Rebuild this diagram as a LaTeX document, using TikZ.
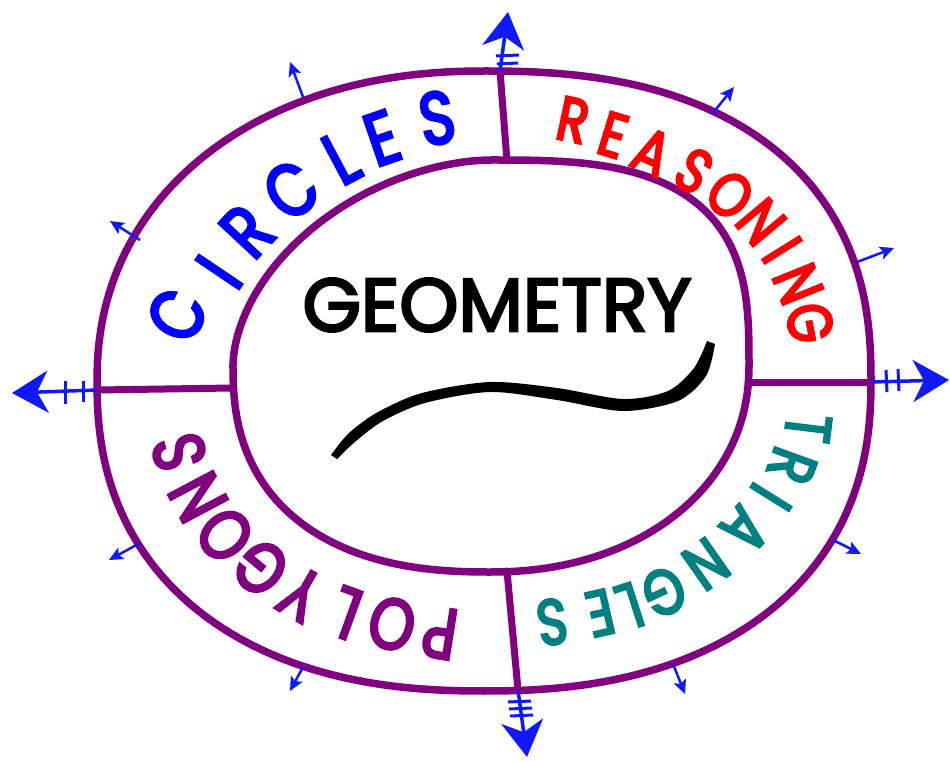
\documentclass[tikz,border=0pt]{standalone}
\usepackage{fontspec}
\usetikzlibrary{arrows.meta}
\newfontfamily\handfont[FakeStretch=0.8, FakeBold=4]{Poppins}
\newfontfamily\geofont[FakeBold=3.5]{Poppins}
\definecolor{ringpurple}{RGB}{128,0,128}
\definecolor{arrowblue}{RGB}{15,25,250}
\definecolor{circblue}{RGB}{0,0,255}
\definecolor{reasred}{RGB}{255,0,0}
\definecolor{trigteal}{RGB}{0,128,128}
% superellipse quadrant: #1 joiner, #2 cx, #3 cy, #4 a, #5 b, #6 exponent 2/n-1, #7..#8 angles
\newcommand{\sqq}[8]{#1 plot[smooth, domain=#7:#8, samples=36, variable=\t]
  ({#2+#4*cos(\t)*(abs(cos(\t))+0.0001)^(#6)}, {#3-#5*sin(\t)*(abs(sin(\t))+0.0001)^(#6)})}
\begin{document}
\begin{tikzpicture}[x=1pt,y=-1pt,
  ring/.style={draw=ringpurple, line width=7.5pt, line join=round},
  divider/.style={draw=ringpurple, line width=7pt, line cap=round},
  bigarrow/.style={draw=arrowblue, line width=3.5pt, -{Stealth[length=36pt,width=42pt,inset=11pt]}},
  smallarrow/.style={draw=arrowblue, line width=2.5pt, -{Stealth[length=14pt,width=13pt,inset=3pt]}},
  fletch/.style={draw=arrowblue, line width=3pt},
  letter/.style={inner sep=0pt, font=\handfont\fontsize{#1}{#1}\selectfont},
  circl/.style={letter=74, text=circblue},
  reasl/.style={letter=62, text=reasred},
  trigl/.style={letter=64, text=trigteal},
  polyl/.style={letter=72, text=ringpurple}
]
\useasboundingbox (0,0) rectangle (950,762);

% outer ring (quadrants TL, TR, BR, BL)
\path[ring] \sqq{}{484}{381}{387}{310}{-0.0698}{180}{90}
  \sqq{--}{484}{381}{387}{310}{-0.1667}{90}{0}
  \sqq{--}{484}{381}{387}{310}{-0.1304}{0}{-90}
  \sqq{--}{484}{381}{387}{310}{-0.1304}{270}{180} -- cycle;

% inner ring
\path[ring] \sqq{}{491}{366}{258}{206}{0.1111}{180}{90}
  \sqq{--}{491}{366}{258}{206}{-0.3333}{90}{0}
  \sqq{--}{491}{366}{258}{206}{-0.0476}{0}{-90}
  \sqq{--}{491}{366}{258}{206}{-0.1667}{270}{180} -- cycle;

% dividers
\coordinate (dTa) at (500,71);  \coordinate (dTb) at (507,161);
\coordinate (dRa) at (748,382); \coordinate (dRb) at (871,382);
\coordinate (dBa) at (507,571); \coordinate (dBb) at (518,690);
\coordinate (dLa) at (97,390);  \coordinate (dLb) at (233,388);
\draw[divider] (dTa) -- (dTb);
\draw[divider] (dRa) -- (dRb);
\draw[divider] (dBa) -- (dBb);
\draw[divider] (dLa) -- (dLb);

% big arrows
\coordinate (aT) at (508,12);
\coordinate (aR) at (949,380);
\coordinate (aB) at (527,757);
\coordinate (aL) at (12,393);
\draw[bigarrow] (dTa) -- (aT);
\draw[bigarrow] (dRb) -- (aR);
\draw[bigarrow] (dBb) -- (aB);
\draw[bigarrow] (dLa) -- (aL);
% fletching ticks
\draw[fletch] (496,56) -- (519,55);
\draw[fletch] (497,64) -- (518,63);
\draw[fletch] (886,370) -- (887,392);
\draw[fletch] (898,369) -- (899,391);
\draw[fletch] (508,702) -- (531,701);
\draw[fletch] (509,709) -- (532,708);
\draw[fletch] (510,716) -- (533,715);
\draw[fletch] (65,381) -- (65,404);
\draw[fletch] (83,381) -- (83,402);

% small arrows
\coordinate (s1a) at (303,97);  \coordinate (s1b) at (290,62);
\coordinate (s2a) at (712,114); \coordinate (s2b) at (734,87);
\coordinate (s3a) at (857,262); \coordinate (s3b) at (894,248);
\coordinate (s4a) at (833,540); \coordinate (s4b) at (861,554);
\coordinate (s5a) at (673,664); \coordinate (s5b) at (685,694);
\coordinate (s6a) at (303,667); \coordinate (s6b) at (290,691);
\coordinate (s7a) at (140,543); \coordinate (s7b) at (109,560);
\coordinate (s8a) at (140,240); \coordinate (s8b) at (110,221);
\foreach \i in {1,...,8}{\draw[smallarrow] (s\i a) -- (s\i b);}

% band labels: letters with tops toward the outer ring
\foreach \ch/\x/\y/\r [count=\i] in {C/177/315/64, I/219/272/56, R/247/231/47, C/291/190/37, L/341/158/28, E/382/138/19, S/437/118/9}
  \node[circl, rotate=\r] (cir\i) at (\x,\y) {\ch};
\foreach \ch/\x/\y/\r [count=\i] in {R/573/120/-12, E/613/135/-17, A/652/152/-24, S/694/171/-32, O/730/195/-40, N/761/222/-50, I/782/250/-58, N/798/284/-68, G/810/323/-79}
  \node[reasl, rotate=\r] (rea\i) at (\x,\y) {\ch};
\foreach \ch/\x/\y/\r [count=\i] in {T/808/428/-97, R/792/466/-110, I/771/497/-122, A/745/530/-133, N/706/564/-145, G/664/592/-155, L/630/606/-162, E/600/613/-167, S/552/622/-172}
  \node[trigl, rotate=\r] (tri\i) at (\x,\y) {\ch};
\foreach \ch/\x/\y/\r [count=\i] in {P/440/633/171, O/392/624/166, L/346/613/160, Y/301/594/150, G/261/568/140, O/225/535/130, N/198/497/118, S/179/452/105}
  \node[polyl, rotate=\r] (pol\i) at (\x,\y) {\ch};

% centre
\node[inner sep=0pt, text=black, font=\geofont\fontsize{75}{80}\selectfont] (geo) at (497,305) {GEOMETRY};
\fill[black] plot[smooth] coordinates {(331,455) (349,433) (378,412) (422,393) (490,382) (557,388) (623,399) (668,391) (694,368) (707,341)}
  -- plot[smooth] coordinates {(715,344) (706,376) (678,401) (623,411) (557,400) (490,392) (425,403) (383,421) (356,441) (337,459)} -- cycle;
\end{tikzpicture}
\end{document}
